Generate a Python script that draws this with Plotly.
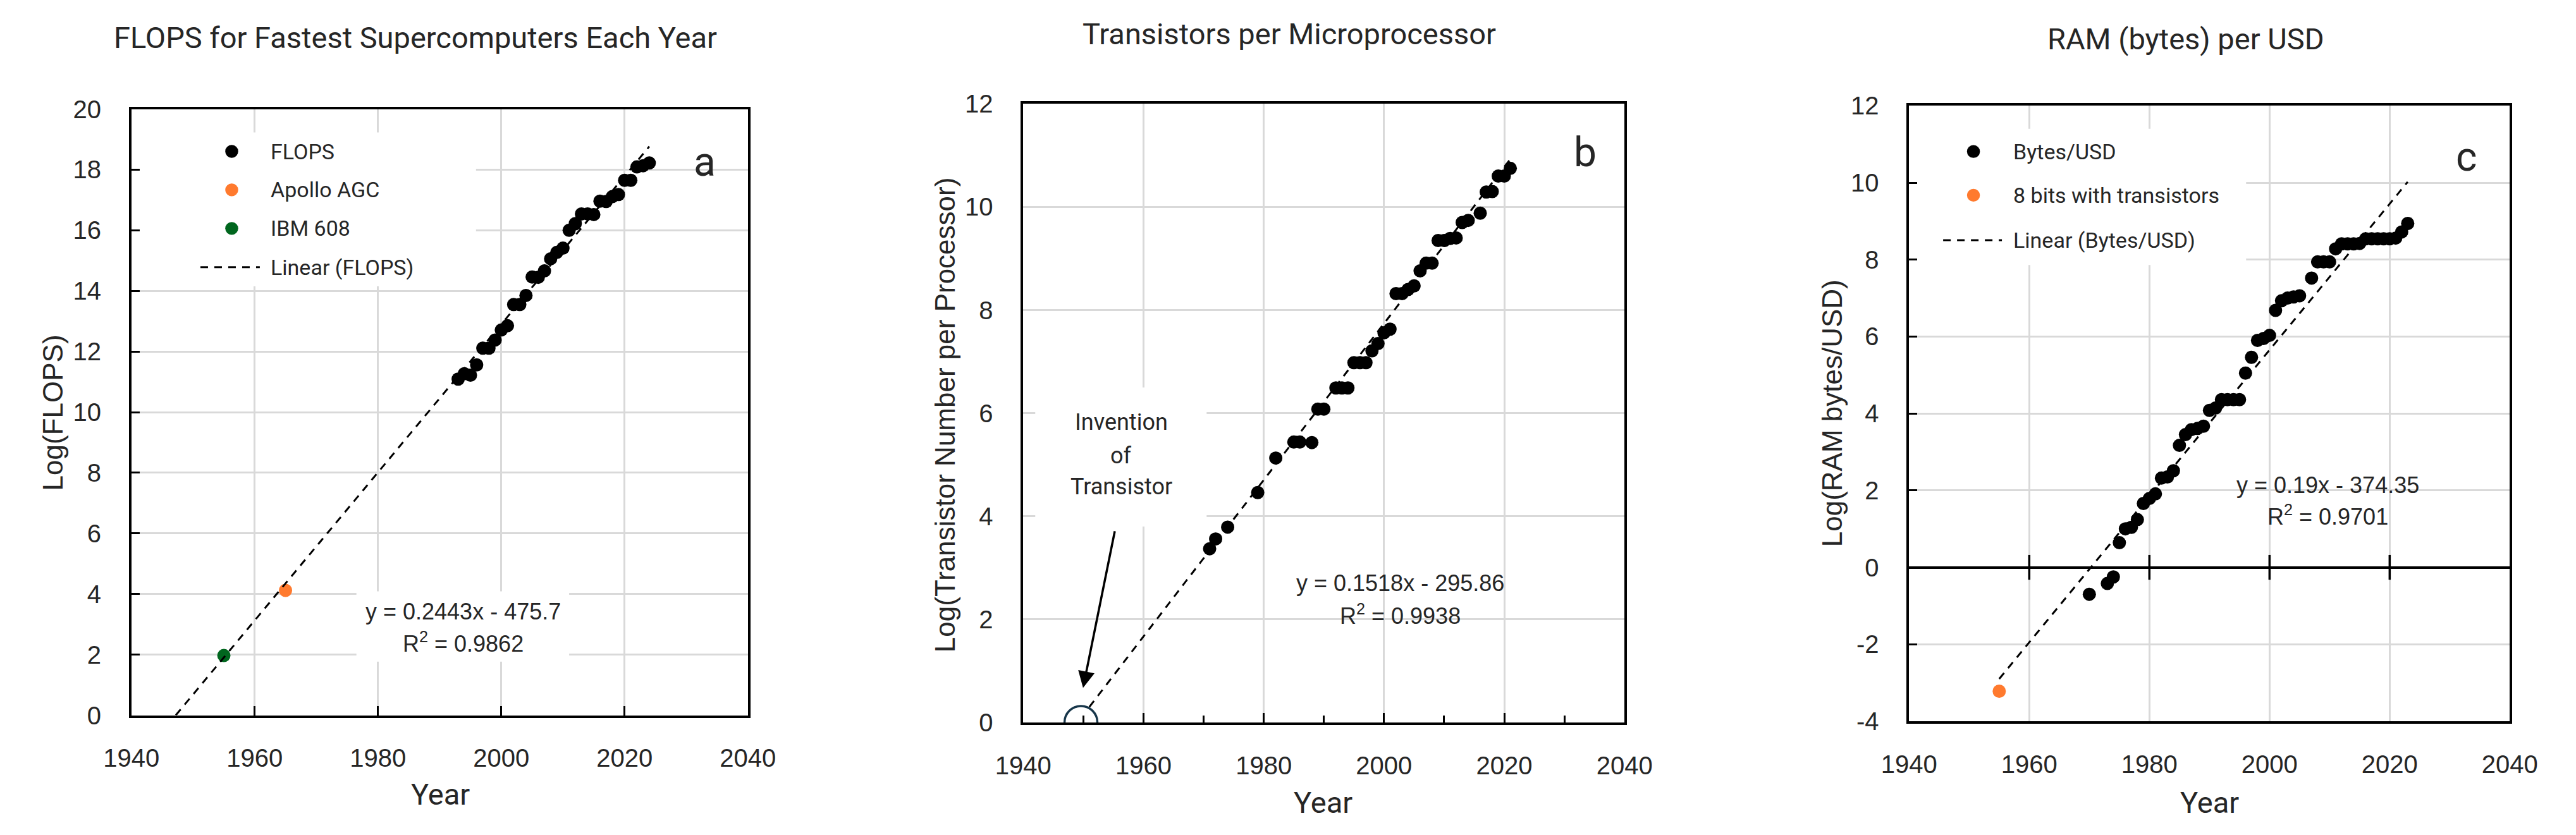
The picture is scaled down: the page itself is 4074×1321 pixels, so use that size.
import plotly.graph_objects as go

W, H = 4074, 1321

# ---------------- data ----------------
# Panel a: FLOPS for fastest supercomputers
flops_years = [1993, 1994, 1995, 1996, 1997, 1998, 1999, 2000, 2001, 2002, 2003,
               2004, 2005, 2006, 2007, 2008, 2009, 2010, 2011, 2012, 2013, 2014,
               2015, 2016, 2017, 2018, 2019, 2020, 2021, 2022, 2023, 2024]
flops_log = [11.09, 11.27, 11.22, 11.56, 12.11, 12.11, 12.38, 12.71, 12.85, 13.55, 13.55,
             13.85, 14.46, 14.45, 14.66, 15.06, 15.27, 15.41, 16.00, 16.22, 16.54, 16.54,
             16.52, 16.96, 16.95, 17.11, 17.18, 17.65, 17.65, 18.09, 18.13, 18.22]
apollo_year = [1965]
apollo_log = [4.12]
ibm_year = [1955]
ibm_log = [1.97]
fit_a = {"slope": 0.2443, "intercept": -475.7, "x0": 1947.2, "x1": 2024}

# Panel b: transistors per microprocessor
trans_years = [1971, 1972, 1974, 1979, 1982, 1985, 1986, 1988, 1989, 1990, 1992, 1993,
               1994, 1995, 1996, 1997, 1998, 1999, 2000, 2001, 2002, 2003, 2004, 2005,
               2006, 2007, 2008, 2009, 2010, 2011, 2012, 2013, 2014, 2016, 2017, 2018,
               2019, 2020, 2021]
trans_log = [3.37, 3.56, 3.79, 4.46, 5.13, 5.44, 5.44, 5.43, 6.08, 6.08, 6.49, 6.49,
             6.49, 6.98, 6.98, 6.98, 7.21, 7.35, 7.56, 7.63, 8.32, 8.32, 8.40, 8.47,
             8.76, 8.91, 8.91, 9.35, 9.35, 9.39, 9.40, 9.70, 9.74, 9.88, 10.29, 10.30,
             10.60, 10.60, 10.75]
fit_b = {"slope": 0.1518, "intercept": -295.86, "x0": 1951.0, "x1": 2021}
invention_year = [1949.6]
invention_log = [0.0]

# Panel c: RAM bytes per USD
ram_years = [1970, 1973, 1974, 1975, 1976, 1977, 1978, 1979, 1980, 1981, 1982, 1983,
             1984, 1985, 1986, 1987, 1988, 1989, 1990, 1991, 1992, 1993, 1994, 1995,
             1996, 1997, 1998, 1999, 2000, 2001, 2002, 2003, 2004, 2005, 2007, 2008,
             2009, 2010, 2011, 2012, 2013, 2014, 2015, 2016, 2017, 2018, 2019, 2020,
             2021, 2022, 2023]
ram_log = [-0.70, -0.42, -0.25, 0.64, 1.00, 1.04, 1.24, 1.66, 1.79, 1.91, 2.32, 2.35,
           2.51, 3.17, 3.45, 3.58, 3.61, 3.67, 4.08, 4.14, 4.36, 4.36, 4.36, 4.36,
           5.05, 5.46, 5.90, 5.95, 6.03, 6.68, 6.93, 7.00, 7.03, 7.06, 7.52, 7.94,
           7.94, 7.94, 8.28, 8.41, 8.41, 8.41, 8.42, 8.54, 8.54, 8.54, 8.54, 8.54,
           8.56, 8.72, 8.94]
bits8_year = [1955]
bits8_log = [-3.22]
fit_c = {"slope": 0.19, "intercept": -374.35, "x0": 1955, "x1": 2023}

# Axis ticks
x_ticks = [1940, 1960, 1980, 2000, 2020, 2040]
y_ticks_a = [0, 2, 4, 6, 8, 10, 12, 14, 16, 18, 20]
y_ticks_b = [0, 2, 4, 6, 8, 10, 12]
y_ticks_c = [-4, -2, 0, 2, 4, 6, 8, 10, 12]
y_labels_c = ["-4", "-2", "0", "2", "4", "6", "8", "10", "12"]
zero_tick_years = [1960, 1980, 2000, 2020]

# Legend entries
legend_a_names = ["FLOPS", "Apollo AGC", "IBM 608", "Linear (FLOPS)"]
legend_c_names = ["Bytes/USD", "8 bits with transistors", "Linear (Bytes/USD)"]

# ---------------- style ----------------
BLACK = "#000000"
TXT = "#262626"
ORANGE = "#FF7A2E"
GREEN = "#00661E"
NAVY = "#17364A"
GRID = "#D9D9D9"
ARIAL = "Liberation Sans, Arial, sans-serif"
APTOS = "Roboto, Inter, sans-serif"
MS = 21
DASH = "12px,10px"


def fit_line(f):
    xs = [f["x0"], f["x1"]]
    ys = [f["slope"] * x + f["intercept"] for x in xs]
    return xs, ys


fig = go.Figure()

# ---- panel a ----
fig.add_trace(go.Scatter(x=flops_years, y=flops_log, mode="markers", name=legend_a_names[0],
                         marker=dict(color=BLACK, size=MS), xaxis="x", yaxis="y"))
fig.add_trace(go.Scatter(x=apollo_year, y=apollo_log, mode="markers", name=legend_a_names[1],
                         marker=dict(color=ORANGE, size=MS), xaxis="x", yaxis="y"))
fig.add_trace(go.Scatter(x=ibm_year, y=ibm_log, mode="markers", name=legend_a_names[2],
                         marker=dict(color=GREEN, size=MS), xaxis="x", yaxis="y"))
xa, ya = fit_line(fit_a)
fig.add_trace(go.Scatter(x=xa, y=ya, mode="lines", name=legend_a_names[3],
                         line=dict(color=BLACK, width=3, dash=DASH), xaxis="x", yaxis="y"))

# ---- panel b ----
xb, yb = fit_line(fit_b)
fig.add_trace(go.Scatter(x=xb, y=yb, mode="lines", name="Linear",
                         line=dict(color=BLACK, width=3, dash=DASH),
                         xaxis="x2", yaxis="y2"))
fig.add_trace(go.Scatter(x=trans_years, y=trans_log, mode="markers", name="Transistors",
                         marker=dict(color=BLACK, size=MS), xaxis="x2", yaxis="y2"))
fig.add_trace(go.Scatter(x=invention_year, y=invention_log, mode="markers",
                         name="Invention of Transistor",
                         marker=dict(symbol="circle-open", size=52, color=NAVY,
                                     line=dict(width=3.5)),
                         xaxis="x2", yaxis="y2"))

# ---- panel c ----
fig.add_trace(go.Scatter(x=ram_years, y=ram_log, mode="markers", name=legend_c_names[0],
                         marker=dict(color=BLACK, size=MS), xaxis="x3", yaxis="y3"))
fig.add_trace(go.Scatter(x=bits8_year, y=bits8_log, mode="markers", name=legend_c_names[1],
                         marker=dict(color=ORANGE, size=MS), xaxis="x3", yaxis="y3"))
xc, yc = fit_line(fit_c)
fig.add_trace(go.Scatter(x=xc, y=yc, mode="lines", name=legend_c_names[2],
                         line=dict(color=BLACK, width=3, dash=DASH), xaxis="x3", yaxis="y3"))
fig.add_trace(go.Scatter(x=zero_tick_years, y=[0] * len(zero_tick_years), mode="markers",
                         hoverinfo="skip", name="ticks",
                         marker=dict(symbol="line-ns", size=28, color=BLACK,
                                     line=dict(width=3.5, color=BLACK)),
                         xaxis="x3", yaxis="y3"))

tickfont = dict(family=ARIAL, size=40, color=TXT)


def xaxis(domain, anchor, ticks, minor=None):
    d = dict(domain=domain, anchor=anchor, range=[1940, 2040], tickvals=x_ticks,
             showgrid=True, gridcolor=GRID, gridwidth=2.5, zeroline=False,
             showline=True, linecolor=BLACK, linewidth=3.5, mirror=True,
             ticks=ticks, ticklen=15, tickwidth=3, tickcolor=BLACK,
             tickfont=tickfont, ticklabelstandoff=30)
    if minor:
        d["minor"] = minor
    return d


def yaxis(domain, anchor, rng, vals, labels=None, ticks="inside", zeroline=False):
    d = dict(domain=domain, anchor=anchor, range=rng, tickvals=vals,
             showgrid=True, gridcolor=GRID, gridwidth=2.5,
             zeroline=zeroline, zerolinecolor=BLACK, zerolinewidth=3.5,
             showline=True, linecolor=BLACK, linewidth=3.5, mirror=True,
             ticks=ticks, ticklen=13, tickwidth=3, tickcolor=BLACK,
             tickfont=tickfont, ticklabelstandoff=36)
    if labels:
        d["ticktext"] = labels
    return d


dom_xa = [167.4 / W, 1164 / W]
dom_ya = [(H - 1147.8) / H, (H - 155.7) / H]
dom_xb = [1609 / W, 2581 / W]
dom_yb = [(H - 1159.6) / H, (H - 147.3) / H]
dom_xc = [3041 / W, 4012 / W]
dom_yc = [(H - 1157.5) / H, (H - 150.3) / H]

annotations = []
shapes = []


def ann(text, x, y, xref="paper", yref="paper", size=40, family=APTOS, angle=0,
        xanchor="center"):
    annotations.append(dict(text=text, x=x, y=y, xref=xref, yref=yref, showarrow=False,
                            font=dict(family=family, size=size, color=TXT),
                            textangle=angle, xanchor=xanchor, yanchor="middle"))


# titles
ann("FLOPS for Fastest Supercomputers Each Year", 626.6 / W, 1 - 39 / H, size=47)
ann("Transistors per Microprocessor", 2038.7 / W, 1 - 33 / H, size=47)
ann("RAM (bytes) per USD", 3488 / W, 1 - 41 / H, size=47)
# x titles
ann("Year", 666.5 / W, 1 - 1277 / H, size=47)
ann("Year", 2094 / W, 1 - 1290 / H, size=47)
ann("Year", 3527 / W, 1 - 1290 / H, size=47)
# y titles
ann("Log(FLOPS)", 40 / W, 1 - 653 / H, size=44, family=ARIAL, angle=-90)
ann("Log(Transistor Number per Processor)", 1482 / W, 1 - 656 / H, size=44, family=ARIAL, angle=-90)
ann("Log(RAM bytes/USD)", 2916 / W, 1 - 654 / H, size=44, family=ARIAL, angle=-90)
# panel letters
ann("a", 2033.0, 18.25, "x", "y", size=64)
ann("b", 2033.5, 11.05, "x2", "y2", size=64)
ann("c", 2032.8, 10.66, "x3", "y3", size=64)
# equations
ann("y = 0.2443x - 475.7", 1993.8, 3.42, "x", "y", size=36, family=ARIAL)
ann("R<sup>2</sup> = 0.9862", 1993.8, 2.40, "x", "y", size=36, family=ARIAL)
ann("y = 0.1518x - 295.86", 2002.7, 2.70, "x2", "y2", size=36, family=ARIAL)
ann("R<sup>2</sup> = 0.9938", 2002.7, 2.10, "x2", "y2", size=36, family=ARIAL)
ann("y = 0.19x - 374.35", 2009.7, 2.13, "x3", "y3", size=36, family=ARIAL)
ann("R<sup>2</sup> = 0.9701", 2009.7, 1.35, "x3", "y3", size=36, family=ARIAL)
# invention note
ann("Invention", 1956.3, 5.82, "x2", "y2", size=36)
ann("of", 1956.3, 5.17, "x2", "y2", size=36)
ann("Transistor", 1956.3, 4.57, "x2", "y2", size=36)
annotations.append(dict(x=1949.95, y=0.67, ax=1955.26, ay=3.73, xref="x2", yref="y2",
                        axref="x2", ayref="y2", text="", showarrow=True,
                        arrowhead=2, arrowsize=1.5, arrowwidth=3.5, arrowcolor=BLACK))

# white boxes that hide gridlines behind legends / labels
for xr, yr, x0, x1, y0, y1 in [("x", "y", 1940, 1995.9, 14.15, 19.23),
                               ("x", "y", 1976.5, 2011.0, 1.77, 4.09),
                               ("x2", "y2", 1942.0, 1970.5, 3.80, 6.50),
                               ("x3", "y3", 1940, 1996.1, 7.86, 11.40)]:
    shapes.append(dict(type="rect", xref=xr, yref=yr, x0=x0, x1=x1, y0=y0, y1=y1,
                       fillcolor="white", line=dict(width=0), layer="between"))


# ---- legends (drawn as swatches + text in page pixels) ----
def legend_block(names, kinds, colors, sym_x, line_x0, line_x1, text_x, rows):
    for name, kind, col, ry in zip(names, kinds, colors, rows):
        py = 1 - ry / H
        if kind == "marker":
            r = MS / 2
            shapes.append(dict(type="circle", xref="paper", yref="paper",
                               x0=(sym_x - r) / W, x1=(sym_x + r) / W,
                               y0=1 - (ry + r) / H, y1=1 - (ry - r) / H,
                               fillcolor=col, line=dict(width=0), layer="above"))
        else:
            shapes.append(dict(type="line", xref="paper", yref="paper",
                               x0=line_x0 / W, x1=line_x1 / W, y0=py, y1=py,
                               line=dict(color=col, width=3, dash=DASH), layer="above"))
        ann(name, text_x / W, py, size=34, xanchor="left")


legend_block(legend_a_names, ["marker", "marker", "marker", "line"],
             [BLACK, ORANGE, GREEN, BLACK], 329.6, 279, 375, 390,
             [225, 288, 351, 414.6])
legend_block(legend_c_names, ["marker", "marker", "line"],
             [BLACK, ORANGE, BLACK], 3145, 3096, 3191, 3207,
             [225.2, 296.7, 370.4])

fig.update_layout(
    width=W, height=H, margin=dict(l=0, r=0, t=0, b=0),
    paper_bgcolor="white", plot_bgcolor="white",
    xaxis=xaxis(dom_xa, "y", "inside"),
    yaxis=yaxis(dom_ya, "x", [0, 20], y_ticks_a),
    xaxis2=xaxis(dom_xb, "y2", "inside",
                 minor=dict(dtick=10, tick0=1940, ticks="inside", ticklen=11,
                            tickwidth=3, tickcolor=BLACK, showgrid=False)),
    yaxis2=yaxis(dom_yb, "x2", [0, 12], y_ticks_b, ticks=""),
    xaxis3=xaxis(dom_xc, "y3", ""),
    yaxis3=yaxis(dom_yc, "x3", [-4, 12], y_ticks_c, labels=y_labels_c, zeroline=True),
    annotations=annotations,
    shapes=shapes,
    showlegend=False,
)

fig.write_html("out.html", config={"displayModeBar": False},
               post_script="document.body.style.margin='0';document.body.style.overflow='hidden';")
